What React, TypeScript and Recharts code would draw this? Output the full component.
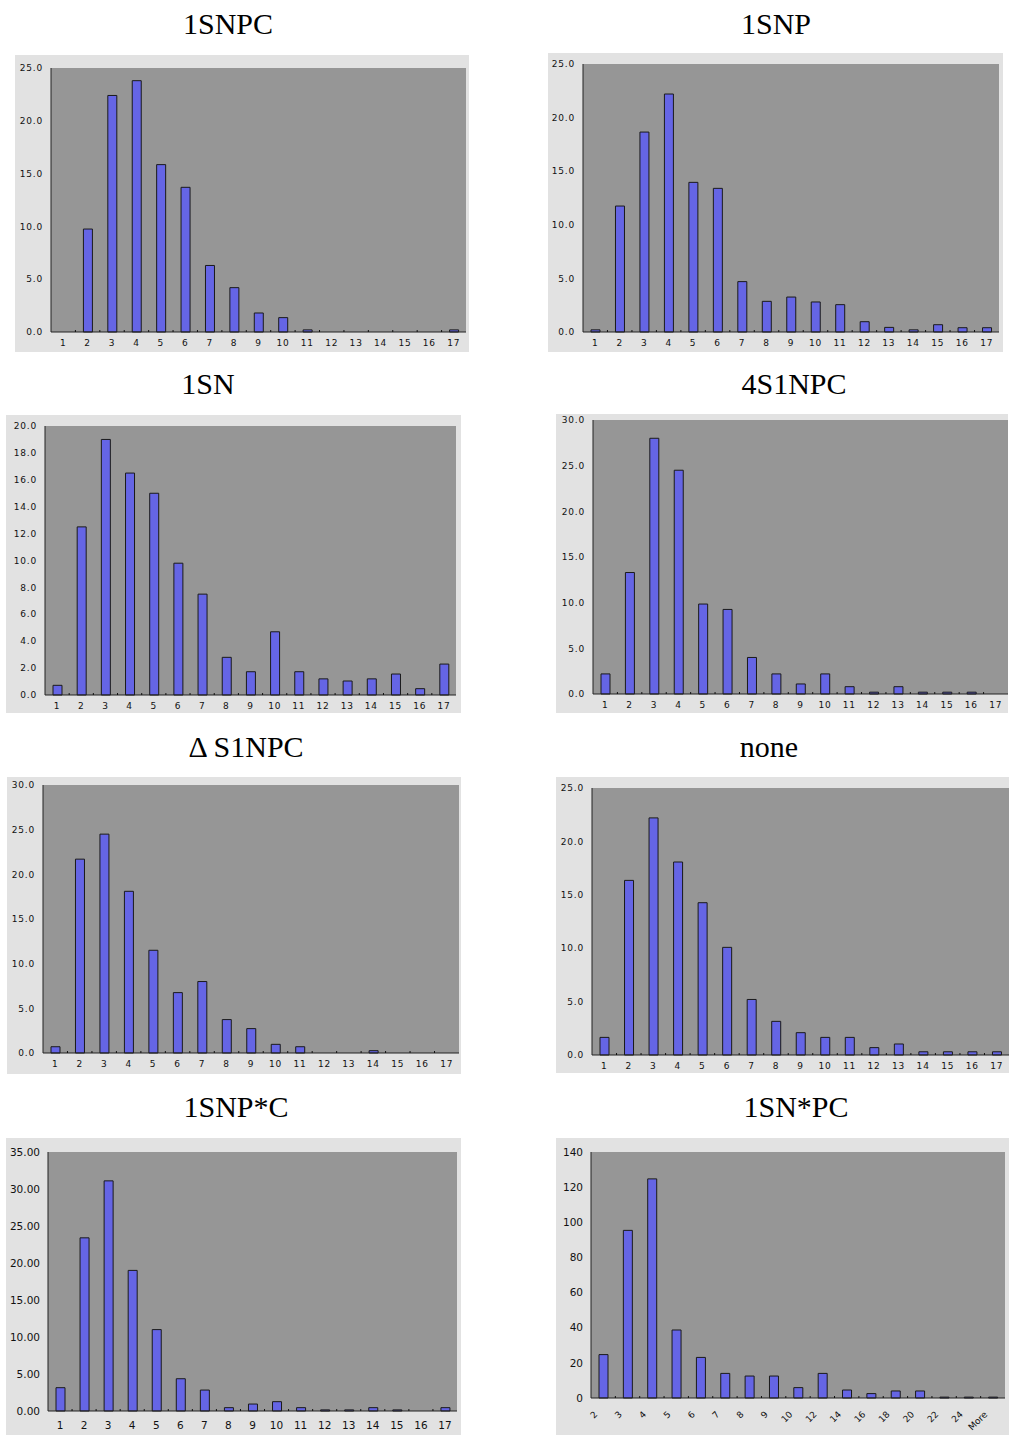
import { Bar, BarChart, CartesianGrid, XAxis, YAxis } from "recharts";

// category labels
const COUNT_LABELS = ["1", "2", "3", "4", "5", "6", "7", "8", "9", "10", "11", "12", "13", "14", "15", "16", "17"];
const SIZE_LABELS = ["2", "3", "4", "5", "6", "7", "8", "9", "10", "12", "14", "16", "18", "20", "22", "24", "More"];

// series values
const SNPC = [0, 9.75, 22.4, 23.8, 15.85, 13.7, 6.3, 4.2, 1.8, 1.36, 0.2, 0, 0, 0, 0, 0, 0.2];
const SNP = [0.2, 11.75, 18.65, 22.2, 13.96, 13.4, 4.7, 2.86, 3.26, 2.8, 2.55, 0.96, 0.43, 0.2, 0.68, 0.4, 0.4];
const SN = [0.72, 12.5, 19.0, 16.5, 15.0, 9.8, 7.5, 2.8, 1.73, 4.7, 1.73, 1.2, 1.04, 1.2, 1.56, 0.47, 2.3];
const S4_1NPC = [2.2, 13.3, 28.0, 24.5, 9.85, 9.26, 4.0, 2.2, 1.1, 2.2, 0.8, 0.2, 0.8, 0.2, 0.2, 0.2, 0];
const DELTA_S1NPC = [0.7, 21.7, 24.5, 18.1, 11.5, 6.76, 8.0, 3.74, 2.73, 0.97, 0.7, 0, 0, 0.26, 0, 0, 0];
const NONE = [1.65, 16.35, 22.2, 18.07, 14.26, 10.08, 5.2, 3.15, 2.09, 1.65, 1.65, 0.69, 1.03, 0.3, 0.3, 0.3, 0.3];
const SNP_STAR_C = [3.15, 23.4, 31.1, 19.0, 11.0, 4.36, 2.83, 0.45, 0.94, 1.26, 0.45, 0.15, 0.15, 0.45, 0.15, 0, 0.45];
const SN_STAR_PC = [24.7, 95.4, 124.7, 38.7, 23.1, 14.0, 12.5, 12.5, 5.9, 14.0, 4.55, 2.5, 4.0, 4.0, 0.5, 0.5, 0.5];

// y tick labels
const TICKS_20 = [0, 2, 4, 6, 8, 10, 12, 14, 16, 18, 20];
const TICKS_25 = [0, 5, 10, 15, 20, 25];
const TICKS_30 = [0, 5, 10, 15, 20, 25, 30];
const TICKS_35 = [0, 5, 10, 15, 20, 25, 30, 35];
const TICKS_140 = [0, 20, 40, 60, 80, 100, 120, 140];

const BAR_FILL = "#6565E5";
const PLOT_BG = "#969696";
const BOX_BG = "#E2E2E2";

type Box = [number, number, number, number];

interface PanelProps {
  title: string;
  titleX: number;
  titleY: number;
  box: Box; // outer grey frame: left, top, right, bottom
  plot: Box; // plot area: left, top, right, bottom
  labels: string[];
  values: number[];
  ticks: number[];
  decimals: number;
  pixelFont?: boolean;
  slanted?: boolean;
}

const PIXEL_TICK = { fontSize: 9, fill: "#111", fontFamily: "DejaVu Sans", letterSpacing: 0.8 };
const SANS_TICK = { fontSize: 10.5, fill: "#111", fontFamily: "DejaVu Sans" };

// x tick: label plus a small mark on the axis at the left edge of the band
function CategoryTick(props: any) {
  const { x, y, payload, index, margin, pixelFont, slanted } = props;
  const half = payload?.offset ?? 12;
  const axisY = y - margin;
  const mark = index > 0 ? (
    <line x1={x - half} x2={x - half} y1={axisY - 2} y2={axisY} stroke="#111" strokeWidth={1} />
  ) : null;

  if (slanted) {
    const ax = x - 5;
    const ay = axisY + 17;
    return (
      <g>
        {mark}
        <text x={ax} y={ay} transform={`rotate(-45 ${ax} ${ay})`} textAnchor="end" fontSize={9} fontFamily="DejaVu Sans" fill="#111">
          {payload.value}
        </text>
      </g>
    );
  }
  const style = pixelFont ? PIXEL_TICK : SANS_TICK;
  return (
    <g>
      {mark}
      <text x={x} y={y} dy="0.71em" textAnchor="middle" {...style}>
        {payload.value}
      </text>
    </g>
  );
}

function Panel(p: PanelProps) {
  const w = p.box[2] - p.box[0];
  const h = p.box[3] - p.box[1];
  const rows = p.labels.map((label, i) => ({ label, value: p.values[i] }));
  const max = p.ticks[p.ticks.length - 1];
  const tickStyle = p.pixelFont ? PIXEL_TICK : SANS_TICK;
  const xMargin = p.pixelFont ? 8 : 11;

  return (
    <>
      <div
        style={{
          position: "absolute",
          left: p.titleX - 150,
          top: p.titleY - 20,
          width: 300,
          textAlign: "center",
          fontFamily: '"Liberation Serif", serif',
          fontSize: 30,
          lineHeight: "40px",
          color: "#000",
        }}
      >
        {p.title}
      </div>
      <div style={{ position: "absolute", left: p.box[0], top: p.box[1], width: w, height: h, background: BOX_BG }}>
        <BarChart
          width={w}
          height={h}
          data={rows}
          barSize={9}
          margin={{ top: p.plot[1] - p.box[1], right: p.box[2] - p.plot[2], bottom: 0, left: 0 }}
        >
          <CartesianGrid xAxisId="b" yAxisId="l" horizontal={false} vertical={false} fill={PLOT_BG} />
          <XAxis
            xAxisId="b"
            dataKey="label"
            height={p.box[3] - p.plot[3]}
            interval={0}
            tickSize={0}
            tickLine={false}
            tickMargin={xMargin}
            axisLine={{ stroke: "#222" }}
            tick={<CategoryTick margin={xMargin} pixelFont={p.pixelFont} slanted={p.slanted} />}
          />
          <XAxis xAxisId="t" orientation="top" dataKey="label" height={0} tick={false} tickLine={false} axisLine={{ stroke: "#555" }} />
          <YAxis
            yAxisId="l"
            width={p.plot[0] - p.box[0]}
            domain={[0, max]}
            ticks={p.ticks}
            interval={0}
            tickSize={0}
            tickLine={false}
            tickMargin={8}
            axisLine={{ stroke: "#222" }}
            tick={tickStyle}
            tickFormatter={(v: number) => v.toFixed(p.decimals)}
          />
          <YAxis yAxisId="r" orientation="right" width={0} domain={[0, max]} tick={false} tickLine={false} axisLine={{ stroke: "#555" }} />
          <Bar xAxisId="b" yAxisId="l" dataKey="value" fill={BAR_FILL} stroke="#1a1a1a" strokeWidth={1} isAnimationActive={false} />
        </BarChart>
      </div>
    </>
  );
}

export default function App() {
  return (
    <div style={{ position: "absolute", left: 0, top: 0, width: 1009, height: 1438, background: "#fff" }}>
      <Panel title="1SNPC" titleX={228} titleY={23.5} box={[15, 55, 469, 352]} plot={[51, 68, 466, 332]}
        labels={COUNT_LABELS} values={SNPC} ticks={TICKS_25} decimals={1} pixelFont />
      <Panel title="1SNP" titleX={776} titleY={23.5} box={[548, 53, 1003, 352]} plot={[583, 64, 999, 332]}
        labels={COUNT_LABELS} values={SNP} ticks={TICKS_25} decimals={1} pixelFont />
      <Panel title="1SN" titleX={208} titleY={384} box={[6, 415, 461, 713]} plot={[45, 426, 456, 695]}
        labels={COUNT_LABELS} values={SN} ticks={TICKS_20} decimals={1} pixelFont />
      <Panel title="4S1NPC" titleX={794} titleY={384} box={[556, 414, 1008, 713]} plot={[593, 420, 1008, 694]}
        labels={COUNT_LABELS} values={S4_1NPC} ticks={TICKS_30} decimals={1} pixelFont />
      <Panel title="Δ S1NPC" titleX={246} titleY={747} box={[7, 777, 461, 1074]} plot={[43, 785, 459, 1053]}
        labels={COUNT_LABELS} values={DELTA_S1NPC} ticks={TICKS_30} decimals={1} pixelFont />
      <Panel title="none" titleX={769} titleY={747} box={[556, 777, 1009, 1073]} plot={[592, 788, 1009, 1055]}
        labels={COUNT_LABELS} values={NONE} ticks={TICKS_25} decimals={1} pixelFont />
      <Panel title="1SNP*C" titleX={236} titleY={1107} box={[6, 1138, 461, 1435]} plot={[48, 1152, 457, 1411]}
        labels={COUNT_LABELS} values={SNP_STAR_C} ticks={TICKS_35} decimals={2} />
      <Panel title="1SN*PC" titleX={796} titleY={1107} box={[556, 1138, 1009, 1435]} plot={[591, 1152, 1005, 1398]}
        labels={SIZE_LABELS} values={SN_STAR_PC} ticks={TICKS_140} decimals={0} slanted />
    </div>
  );
}
